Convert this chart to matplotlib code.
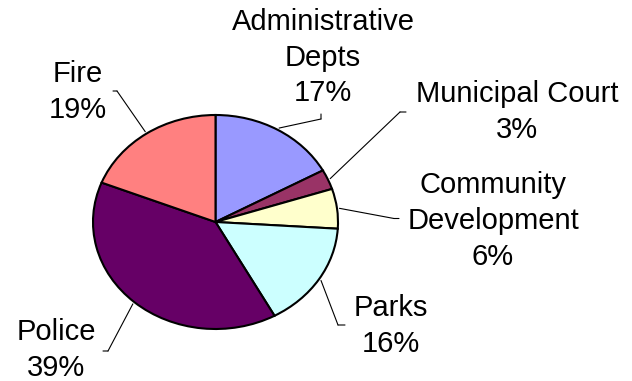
import numpy as np
import matplotlib
matplotlib.use('Agg')
import matplotlib.pyplot as plt

W, H = 632, 381

depts = ['Administrative\nDepts', 'Municipal Court', 'Community\nDevelopment',
         'Parks', 'Police', 'Fire']
shares = [17, 3, 6, 16, 39, 19]
colors = ['#9999FF', '#993366', '#FFFFCC', '#CCFFFF', '#660066', '#FF8080']

# label layout in image pixels (x right, y down): text centre, leader elbow, stub end
text_pos = [(323, 57.5), (517, 112), (493, 221), (391, 326), (56, 350), (77.5, 92)]
elbows = [(321, 119), (400, 112), (394, 218.5), (338, 325), (108, 351), (117, 91)]
stubs = [(321, 114), (406, 112), (399, 218.5), (345, 325), (103, 351), (113, 91)]

plt.rcParams['font.family'] = ['Liberation Sans', 'DejaVu Sans']

fig = plt.figure(figsize=(W / 100, H / 100), dpi=100)

# pie is squashed a little vertically, so the axes box is the ellipse bbox
cx, cy, rx, ry = 215.5, 222, 122.5, 107
ax = fig.add_axes([(cx - rx) / W, (H - cy - ry) / H, 2 * rx / W, 2 * ry / H])
wedges, _ = ax.pie(shares, colors=colors, startangle=90, counterclock=False,
                   wedgeprops=dict(edgecolor='black', linewidth=1.5))
for w in wedges:
    w.set_clip_on(False)
ax.set_aspect('auto')
ax.set_xlim(-1, 1)
ax.set_ylim(-1, 1)
ax.axis('off')

cum = 0
for i, s in enumerate(shares):
    mid = np.deg2rad(90 - 360 * (cum + s / 2) / sum(shares))
    cum += s
    px, py = 1.02 * np.cos(mid), 1.02 * np.sin(mid)
    ex, ey = elbows[i]
    sx, sy = stubs[i]
    line = dict(arrowstyle='-', color='black', lw=0.8, shrinkA=0, shrinkB=0)
    ax.annotate('', xy=(px, py), xycoords='data',
                xytext=(ex, H - ey), textcoords='figure pixels',
                arrowprops=line, annotation_clip=False)
    ax.annotate('', xy=(ex, H - ey), xycoords='figure pixels',
                xytext=(sx, H - sy), textcoords='figure pixels',
                arrowprops=line, annotation_clip=False)
    tx, ty = text_pos[i]
    fig.text(tx / W, 1 - ty / H, '%s\n%d%%' % (depts[i], s),
             ha='center', va='center', multialignment='center',
             fontsize=21, linespacing=1.35)

fig.savefig('out.png', dpi=100, facecolor='white')
